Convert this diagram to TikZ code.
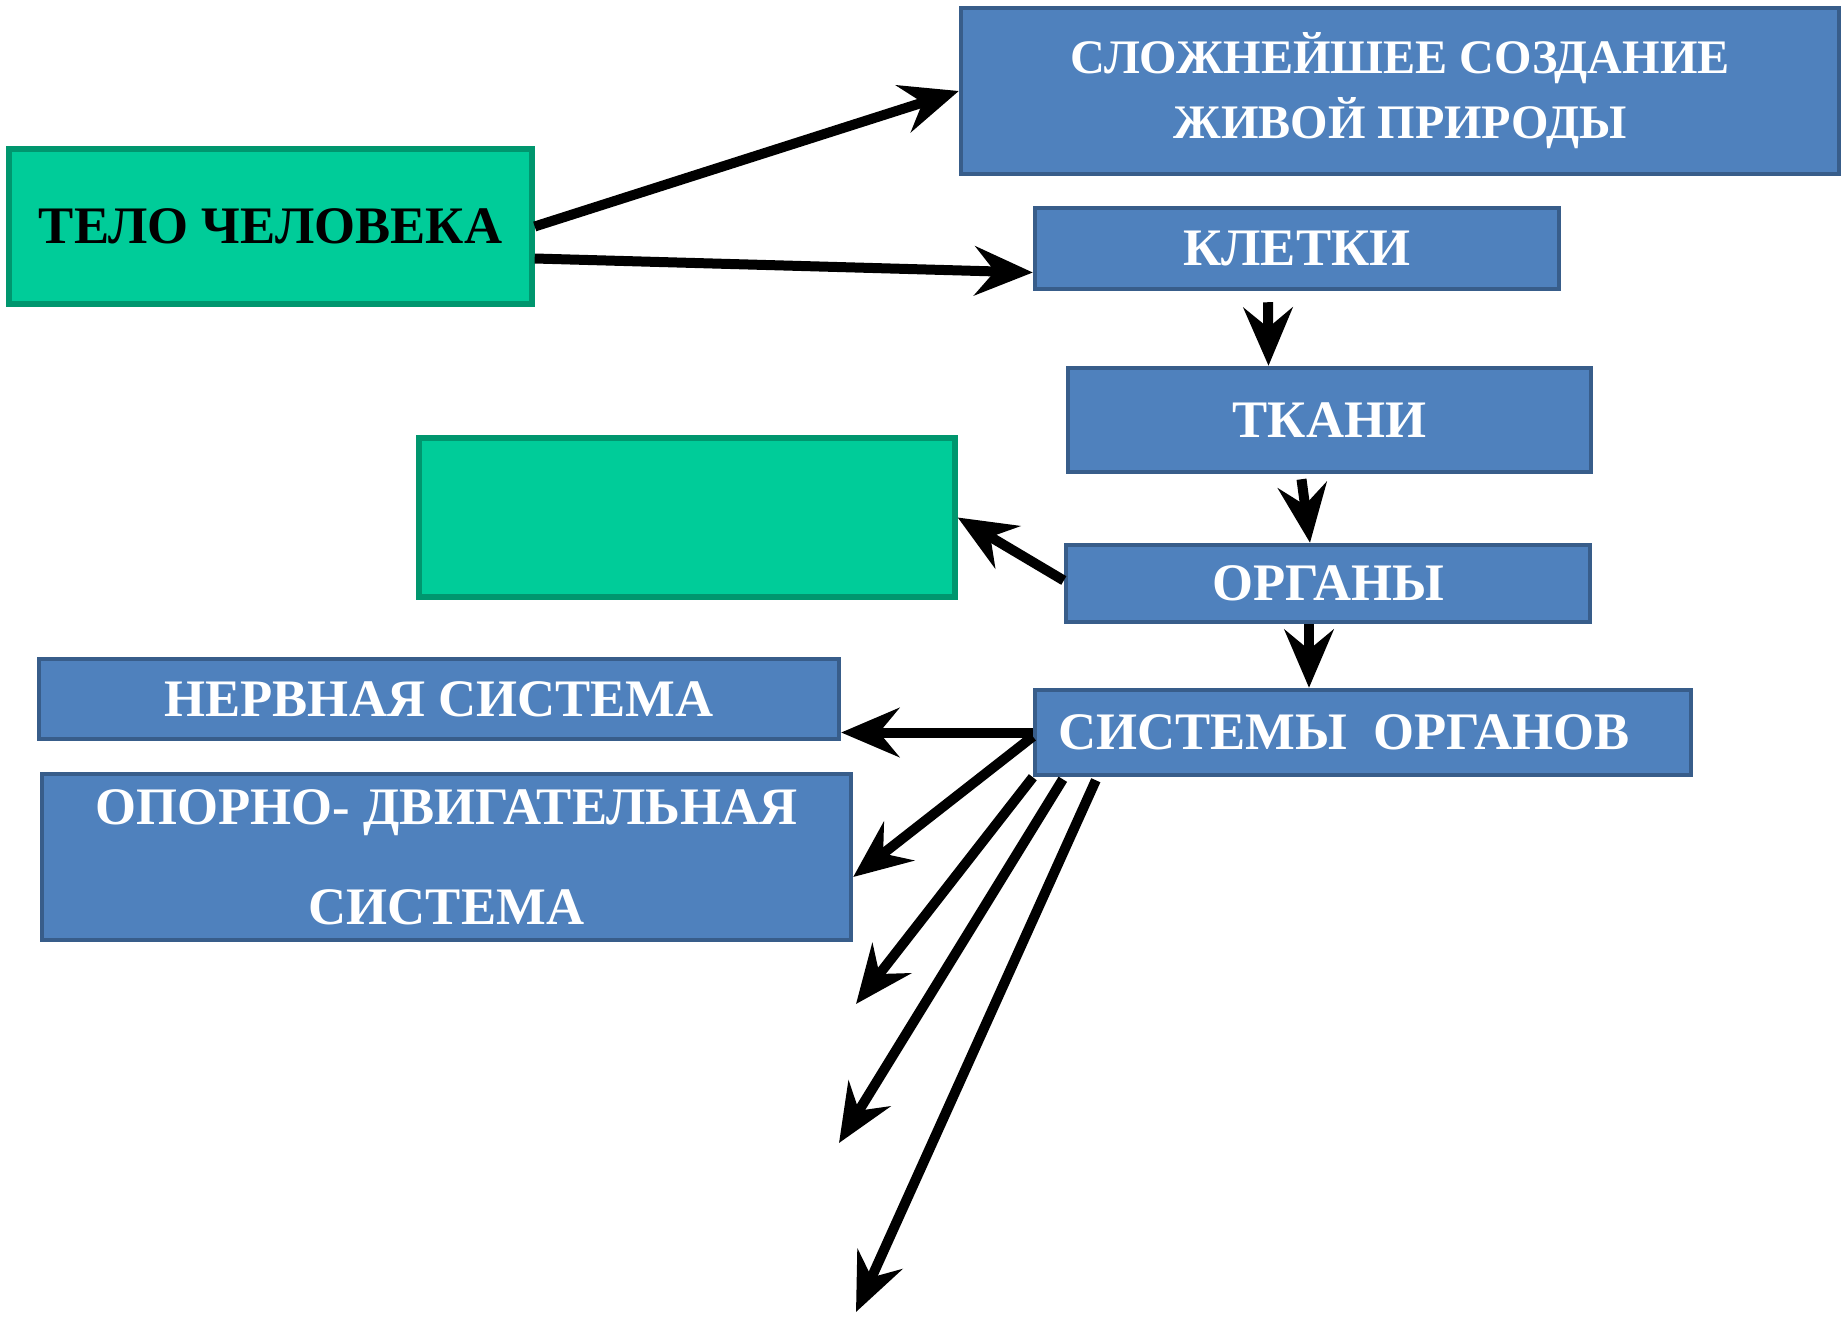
\documentclass[tikz,border=0pt]{standalone}
\usepackage{fontspec}
\setmainfont{Liberation Serif}
\usetikzlibrary{arrows.meta,calc}
\definecolor{bluefill}{HTML}{4F81BD}
\definecolor{blueline}{HTML}{385D8A}
\definecolor{greenfill}{HTML}{00CC99}
\definecolor{greenline}{HTML}{00966E}
\begin{document}
\begin{tikzpicture}[x=0.02cm,y=-0.02cm,
 bluebox/.style={draw=blueline,fill=bluefill,line width=0.09cm,text=white,font=\fontsize{30}{37}\selectfont\bfseries,inner sep=0pt,align=center},
 greenbox/.style={draw=greenline,fill=greenfill,line width=0.11cm,text=black,font=\fontsize{30}{37}\selectfont\bfseries,inner sep=0pt,align=center},
 arr/.style={line width=0.2cm,-{Stealth[length=1.16cm,width=0.98cm,inset=0.4cm]}}]
\useasboundingbox (0,0) rectangle (1845,1318);
\node[bluebox,minimum width=17.56cm,minimum height=3.32cm,font=\fontsize{27.4}{37}\selectfont\bfseries] (top) at (1400,91) {СЛОЖНЕЙШЕЕ СОЗДАНИЕ\\ЖИВОЙ ПРИРОДЫ};
\node[greenbox,minimum width=10.46cm,minimum height=3.1cm] (telo) at (270.5,226.5) {ТЕЛО ЧЕЛОВЕКА};
\node[bluebox,minimum width=10.48cm,minimum height=1.62cm] (kletki) at (1297,248.5) {КЛЕТКИ};
\node[bluebox,minimum width=10.46cm,minimum height=2.08cm] (tkani) at (1329.5,420) {ТКАНИ};
\node[greenbox,minimum width=10.72cm,minimum height=3.18cm] (empty) at (687,517.5) {};
\node[bluebox,minimum width=10.48cm,minimum height=1.54cm] (organy) at (1328,583.5) {ОРГАНЫ};
\node[bluebox,minimum width=16cm,minimum height=1.6cm] (nerv) at (439,699) {НЕРВНАЯ СИСТЕМА};
\node[bluebox,minimum width=16.18cm,minimum height=3.32cm] (opora) at (446.5,857) {ОПОРНО- ДВИГАТЕЛЬНАЯ\\[20pt]СИСТЕМА};
\node[bluebox,minimum width=13.12cm,minimum height=1.7cm] (sistemy) at (1363,732.5) {СИСТЕМЫ\ \ ОРГАНОВ\hspace{0.76cm}};
\coordinate (endI) at (856,1004);
\coordinate (endJ) at (839,1143);
\coordinate (endK) at (856,1312);
\draw[arr] (telo.east) -- (top.west);
\draw[arr] ($(telo.east)+(0,32)$) -- ($(kletki.west)+(0,24)$);
\draw[arr] ($(kletki.south)+(-29,11)$) -- ($(tkani.north)+(-61,0)$);
\draw[arr] ($(tkani.south)+(-28,5)$) -- ($(organy.north)+(-18,0)$);
\draw[arr] ($(organy.west)+(0,-3)$) -- (empty.east);
\draw[arr] ($(organy.south)+(-19,0)$) -- ($(sistemy.north)+(-54,0)$);
\draw[arr] (sistemy.west) -- (sistemy.west -| nerv.east);
\draw[arr] ($(sistemy.west)+(0,4)$) -- ($(opora.east)+(0,20)$);
\draw[arr] (sistemy.south west) -- (endI);
\draw[arr] ($(sistemy.south west)+(30,2)$) -- (endJ);
\draw[arr] ($(sistemy.south west)+(63,3)$) -- (endK);
\end{tikzpicture}
\end{document}
